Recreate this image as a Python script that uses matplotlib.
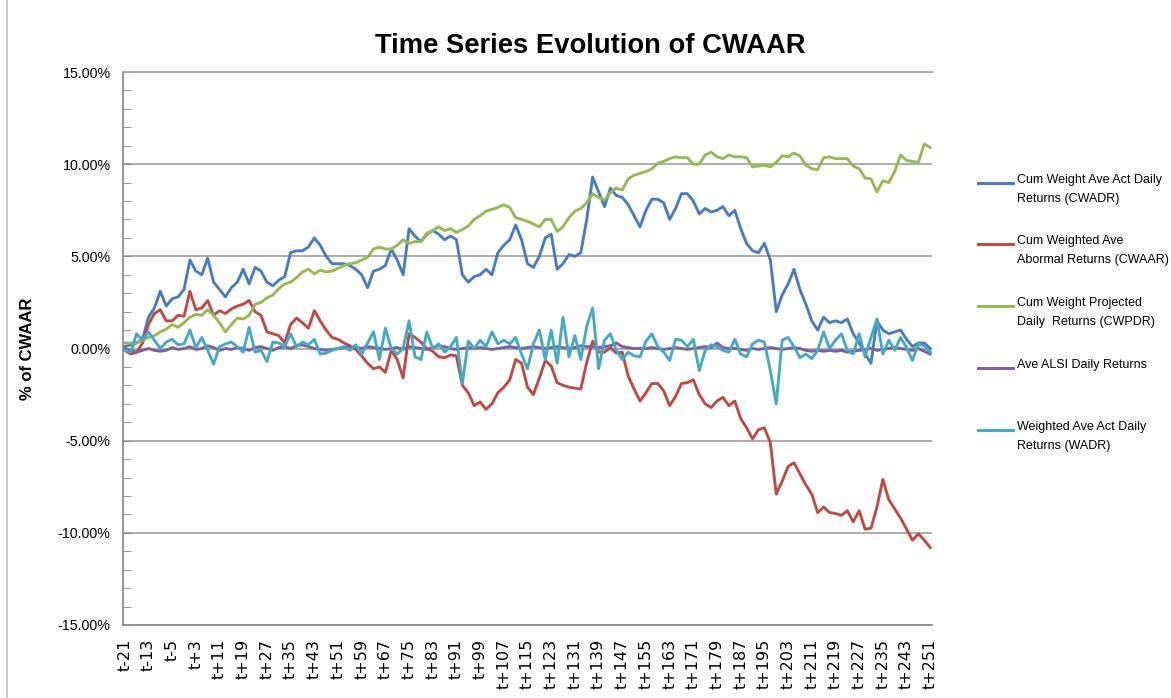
import numpy as np
import matplotlib
matplotlib.use("Agg")
import matplotlib.pyplot as plt
import matplotlib.ticker as ticker
from matplotlib.lines import Line2D

# event days, one value every 2 trading days (in % units)
days = list(range(-21, 252, 2))
tick_days = list(range(-21, 252, 8))
tick_labels = [f"t{d:+d}" for d in tick_days]

cwadr = [0.1, 0.2, 0.3, 0.5, 1.7, 2.2, 3.1, 2.3, 2.7, 2.8,
         3.2, 4.8, 4.2, 4.0, 4.9, 3.6, 3.2, 2.8, 3.3, 3.6,
         4.3, 3.5, 4.4, 4.2, 3.6, 3.4, 3.7, 3.9, 5.2, 5.3,
         5.3, 5.5, 6.0, 5.6, 5.0, 4.6, 4.6, 4.6, 4.5, 4.3,
         4.0, 3.3, 4.2, 4.3, 4.5, 5.4, 4.8, 4.0, 6.5, 6.1,
         5.8, 6.2, 6.4, 6.2, 5.9, 6.1, 5.9, 4.0, 3.6, 3.9,
         4.0, 4.3, 4.0, 5.2, 5.6, 5.9, 6.7, 5.9, 4.6, 4.4,
         5.0, 6.0, 6.2, 4.3, 4.6, 5.1, 5.0, 5.2, 7.0, 9.3,
         8.5, 7.7, 8.7, 8.3, 8.2, 7.8, 7.2, 6.6, 7.5, 8.1,
         8.1, 7.9, 7.0, 7.6, 8.4, 8.4, 8.0, 7.3, 7.6, 7.4,
         7.5, 7.7, 7.2, 7.5, 6.5, 5.7, 5.3, 5.2, 5.7, 4.8,
         2.0, 2.9, 3.5, 4.3, 3.2, 2.4, 1.5, 1.0, 1.7, 1.4,
         1.5, 1.4, 1.6, 0.8, 0.3, -0.3, -0.8, 1.5, 1.0, 0.8,
         0.9, 1.0, 0.5, 0.1, 0.3, 0.3, 0.0]

cwaar = [-0.1, -0.3, -0.2, 0.3, 1.3, 1.9, 2.1, 1.5, 1.5, 1.8,
         1.75, 3.1, 2.1, 2.2, 2.6, 1.8, 2.05, 1.9, 2.15, 2.3,
         2.4, 2.6, 2.0, 1.8, 0.9, 0.8, 0.7, 0.3, 1.3, 1.65,
         1.4, 1.1, 2.05, 1.5, 1.0, 0.6, 0.5, 0.3, 0.15, -0.05,
         -0.4, -0.8, -1.1, -1.0, -1.3, -0.1, -0.6, -1.6, 0.8, 0.6,
         0.35, 0.0, -0.15, -0.45, -0.5, -0.35, -0.4, -2.0, -2.4, -3.1,
         -2.9, -3.3, -3.0, -2.4, -2.1, -1.7, -0.6, -0.8, -2.1, -2.5,
         -1.6, -0.65, -0.95, -1.85, -2.0, -2.1, -2.15, -2.2, -0.75, 0.4,
         -0.2, -0.2, 0.05, -0.25, -0.2, -1.5, -2.2, -2.85, -2.4, -1.9,
         -1.9, -2.3, -3.1, -2.6, -1.9, -1.85, -1.7, -2.5, -3.0, -3.2,
         -2.85, -2.65, -3.1, -2.85, -3.8, -4.3, -4.9, -4.4, -4.3, -5.1,
         -7.9, -7.2, -6.4, -6.2, -6.8, -7.4, -7.9, -8.9, -8.6, -8.9,
         -8.95, -9.05, -8.8, -9.4, -8.8, -9.8, -9.75, -8.6, -7.1, -8.2,
         -8.7, -9.2, -9.8, -10.4, -10.05, -10.4, -10.8]

cwpdr = [0.3, 0.3, 0.3, 0.45, 0.6, 0.7, 0.9, 1.05, 1.3, 1.15,
         1.4, 1.7, 1.85, 1.8, 2.1, 1.8, 1.4, 0.9, 1.3, 1.65,
         1.6, 1.8, 2.4, 2.5, 2.75, 2.9, 3.25, 3.5, 3.6, 3.85,
         4.15, 4.3, 4.05, 4.25, 4.15, 4.2, 4.35, 4.5, 4.6, 4.65,
         4.8, 4.95, 5.4, 5.5, 5.4, 5.4, 5.6, 5.9, 5.7, 5.8,
         5.8, 6.25, 6.4, 6.6, 6.4, 6.5, 6.3, 6.45, 6.65, 7.0,
         7.2, 7.45, 7.55, 7.65, 7.8, 7.65, 7.1, 7.0, 6.9, 6.75,
         6.6, 7.0, 7.0, 6.35, 6.6, 7.1, 7.45, 7.6, 7.9, 8.4,
         8.2, 8.05, 8.45, 8.7, 8.6, 9.2, 9.4, 9.5, 9.6, 9.75,
         10.05, 10.15, 10.3, 10.4, 10.35, 10.35, 10.0, 10.0, 10.5, 10.65,
         10.4, 10.3, 10.5, 10.4, 10.4, 10.35, 9.85, 9.9, 9.95, 9.85,
         10.1, 10.45, 10.4, 10.6, 10.45, 9.95, 9.75, 9.7, 10.35, 10.4,
         10.3, 10.3, 10.3, 9.9, 9.75, 9.25, 9.2, 8.5, 9.1, 9.0,
         9.6, 10.5, 10.2, 10.15, 10.1, 11.1, 10.9]

alsi = [0.0, -0.1, -0.2, -0.1, 0.0, -0.1, -0.15, -0.1, 0.05, -0.05,
        0.0, 0.1, -0.05, 0.0, 0.15, 0.05, -0.1, 0.0, -0.05, 0.05,
        0.0, -0.1, 0.05, 0.1, 0.0, -0.1, 0.05, 0.1, 0.0, 0.15,
        0.2, 0.1, 0.0, -0.05, -0.1, -0.05, 0.0, 0.05, 0.1, 0.05,
        0.0, 0.1, 0.05, 0.0, -0.05, 0.0, 0.05, -0.05, 0.1, 0.05,
        0.0, -0.05, 0.05, 0.15, 0.1, 0.0, -0.05, 0.0, 0.05, 0.0,
        0.05, 0.0, -0.05, 0.0, 0.05, 0.1, 0.05, 0.0, 0.05, 0.1,
        0.05, 0.0, 0.05, 0.1, 0.05, 0.0, 0.05, 0.15, 0.1, 0.1,
        0.05, 0.1, 0.15, 0.3, 0.1, 0.05, 0.0, 0.0, 0.0, 0.05,
        0.0, -0.05, 0.0, 0.05, 0.0, -0.05, 0.0, 0.05, 0.1, 0.05,
        0.3, 0.05, 0.0, 0.0, -0.05, -0.1, 0.0, -0.05, 0.0, 0.05,
        0.0, -0.05, 0.0, 0.05, 0.0, -0.1, -0.15, -0.1, -0.15, -0.1,
        -0.15, -0.1, -0.2, -0.15, -0.1, -0.05, 0.0, -0.1, -0.05, 0.0,
        0.05, 0.0, -0.05, -0.1, 0.0, -0.15, -0.3]

wadr = [-0.1, -0.2, 0.8, 0.45, 0.9, 0.45, 0.0, 0.35, 0.5, 0.2,
        0.25, 1.0, 0.05, 0.6, -0.1, -0.85, 0.1, 0.25, 0.35, 0.1,
        -0.2, 1.15, -0.2, -0.1, -0.7, 0.35, 0.3, 0.1, 0.8, 0.1,
        0.35, 0.2, 0.5, -0.3, -0.25, -0.1, 0.0, 0.1, -0.1, 0.2,
        -0.3, 0.3, 0.9, -0.6, 1.1, 0.0, -0.3, 0.0, 1.5, -0.45,
        -0.6, 0.9, 0.0, 0.25, -0.2, 0.1, 0.6, -1.9, 0.4, 0.0,
        0.45, 0.1, 0.9, 0.25, 0.45, 0.25, 0.6, -0.3, -1.1, 0.25,
        1.0, -0.6, 1.0, -0.8, 1.7, -0.45, 0.7, -0.6, 1.2, 2.2,
        -1.1, 0.45, 0.8, -0.1, -0.6, -0.2, -0.4, -0.45, 0.4, 0.8,
        0.1, -0.2, -0.65, 0.5, 0.45, 0.1, 0.5, -1.2, -0.1, 0.2,
        0.1, -0.1, -0.2, 0.5, -0.3, -0.45, 0.25, 0.45, 0.35, -1.2,
        -3.0, 0.45, 0.6, 0.1, -0.5, -0.3, -0.55, -0.1, 0.9, 0.0,
        0.45, 0.8, -0.1, -0.3, 0.8, -0.45, 0.6, 1.6, -0.3, 0.45,
        -0.1, 0.6, 0.05, -0.65, 0.25, 0.15, -0.2]

series = [
    (cwadr, "#4a7ebb", "Cum Weight Ave Act Daily\nReturns (CWADR)"),
    (cwaar, "#be4b48", "Cum Weighted Ave\nAbormal Returns (CWAAR)"),
    (cwpdr, "#98b954", "Cum Weight Projected\nDaily  Returns (CWPDR)"),
    (alsi, "#7d60a0", "Ave ALSI Daily Returns"),
    (wadr, "#46aac5", "Weighted Ave Act Daily\nReturns (WADR)"),
]

plt.rcParams["font.family"] = ["Liberation Sans", "DejaVu Sans"]

fig = plt.figure(figsize=(11.71, 6.98), dpi=100)
ax = fig.add_axes([123 / 1171, 1 - 625 / 698, (932 - 123) / 1171, (625 - 72) / 698])

for vals, col, lab in series:
    ax.plot(days, vals, color=col, linewidth=2.1, solid_joinstyle="round")

ax.set_xlim(-21.6, 251.6)
ax.set_ylim(-15, 15)
ax.set_yticks(np.arange(-15, 15.1, 5))
ax.yaxis.set_minor_locator(ticker.MultipleLocator(1))
ax.yaxis.set_major_formatter(ticker.FuncFormatter(lambda v, p: f"{v:.2f}%"))
ax.grid(axis="y", color="#a6a6a6", linewidth=1.3)
ax.set_axisbelow(True)

ax.set_xticks(tick_days)
ax.set_xticklabels(tick_labels, rotation=90, family="DejaVu Sans", fontsize=11.5)
ax.tick_params(axis="x", length=0, pad=10)
ax.tick_params(axis="y", which="both", direction="in", length=6, color="#8c8c8c",
               labelsize=10.3, pad=9)

ax.spines["right"].set_visible(False)
ax.spines["top"].set_color("#a6a6a6")
ax.spines["left"].set_color("#8c8c8c")
ax.spines["bottom"].set_color("#8c8c8c")
for s in ["top", "left", "bottom"]:
    ax.spines[s].set_linewidth(1.3)

ax.set_ylabel("% of CWAAR", fontsize=12, fontweight="bold")
ax.yaxis.set_label_coords(-0.109, 0.5)

fig.text(0.504, 1 - 46 / 698, "Time Series Evolution of CWAAR",
         ha="center", va="center", fontsize=19.7, fontweight="bold")

# legend drawn by hand so the handle sits on the first text line
leg_y = [183, 244, 306, 368, 430]
for (vals, col, lab), yp in zip(series, leg_y):
    yf = 1 - yp / 698
    fig.add_artist(Line2D([978 / 1171, 1013 / 1171], [yf, yf], color=col,
                          linewidth=2.2, transform=fig.transFigure))
    fig.text(1017 / 1171, yf + 9 / 698, lab, ha="left", va="top",
             fontsize=9.0, linespacing=1.75)

# chart area border on the left
fig.add_artist(Line2D([7 / 1171, 7 / 1171], [0, 1], color="#bfbfbf",
                      linewidth=1.2, transform=fig.transFigure))

fig.savefig("out.png", dpi=100)
